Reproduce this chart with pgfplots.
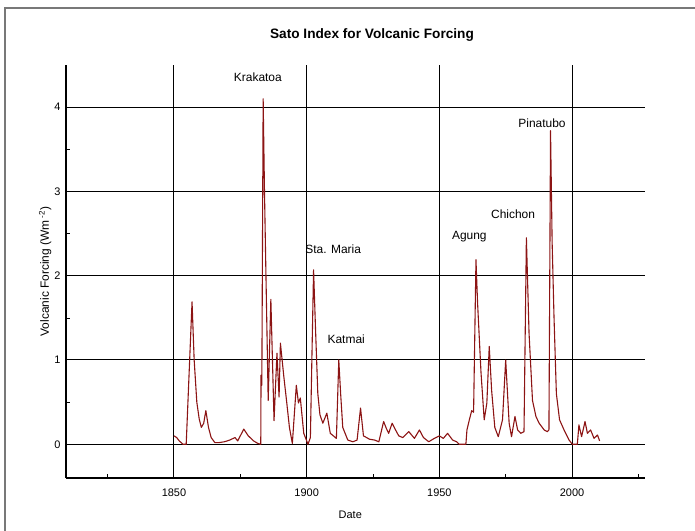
\documentclass[border=0pt]{standalone}
\usepackage{pgfplots}
\pgfplotsset{compat=1.18}
\usepackage{fontspec}
\setmainfont{Liberation Sans}
\definecolor{volc}{RGB}{140,20,20}
\definecolor{framegray}{RGB}{120,120,120}
\pgfplotstableread{
year val
1850 0.10
1851 0.08
1852 0.04
1853.4 0
1854.6 0
1856.8 1.69
1857.6 1.00
1858.6 0.50
1859.5 0.30
1860.3 0.20
1861.2 0.25
1862 0.40
1863 0.20
1864 0.08
1865.4 0.02
1867 0.02
1869 0.03
1871 0.05
1873 0.08
1874 0.04
1876.3 0.18
1878 0.10
1880 0.04
1881.6 0.01
1882.7 0
1882.8 0.82
1883.1 0.70
1883.6 4.10
1884.1 3.00
1884.6 2.10
1885.5 0.52
1886.5 1.72
1887.7 0.28
1888.8 1.08
1889.6 0.56
1890.1 1.20
1891.4 0.80
1892.4 0.52
1893.5 0.20
1894.6 0.01
1896.1 0.70
1896.9 0.49
1897.6 0.55
1898.9 0.13
1900.5 0
1901.4 0.08
1902.6 2.07
1903.3 1.40
1904.2 0.60
1905 0.35
1906.1 0.25
1907.6 0.37
1908.9 0.13
1911.2 0.07
1912.1 1.00
1912.8 0.60
1913.6 0.20
1915.5 0.05
1917.4 0.03
1919 0.05
1920.3 0.43
1921.4 0.10
1923.7 0.06
1925.6 0.05
1927.2 0.03
1929 0.27
1930 0.19
1930.9 0.13
1932.2 0.25
1933.5 0.17
1934.7 0.10
1936.2 0.08
1938.5 0.15
1940.6 0.07
1942.5 0.17
1944 0.08
1946 0.03
1948.1 0.07
1950 0.10
1951.5 0.07
1953.1 0.13
1955 0.05
1956.5 0.03
1957.5 0
1960 0
1960.4 0.17
1961.3 0.29
1962.2 0.40
1962.9 0.38
1963.8 2.19
1964.4 1.68
1965.7 0.85
1966.9 0.29
1967.9 0.49
1968.8 1.16
1969.7 0.64
1970.9 0.20
1972.2 0.09
1973.8 0.29
1975 1.00
1976.3 0.25
1977.2 0.09
1978.5 0.33
1979.5 0.17
1980.7 0.13
1981.9 0.15
1982.8 2.45
1983.8 1.32
1985.1 0.52
1986.4 0.33
1987.6 0.25
1989.5 0.17
1990.7 0.15
1991.3 0.17
1991.9 3.72
1992.5 2.40
1993.2 1.52
1994.1 0.60
1995.3 0.29
1997 0.17
1998.9 0.05
2000.1 0
2002 0
2002.6 0.23
2003.6 0.09
2004.9 0.27
2005.8 0.13
2007 0.17
2008.3 0.07
2009.6 0.11
2010.4 0.04
}\sato
\begin{document}
\begin{tikzpicture}
\useasboundingbox (0bp,0bp) rectangle (695bp,531bp);
\draw[framegray, line width=1.5bp] (5bp,-10bp) rectangle (705bp,523bp);
\node[font=\bfseries\fontsize{13.7}{15}\selectfont] at (372bp,496bp) {Sato Index for Volcanic Forcing};
\begin{axis}[
  at={(66bp,53bp)}, anchor=south west,
  scale only axis, width=579bp, height=413bp,
  xmin=1809.3, xmax=2027.5, ymin=-0.4, ymax=4.5,
  axis x line*=bottom, axis y line*=left,
  axis line style={black, line width=1.2bp, -},
  xtick={1850,1900,1950,2000},
  ytick={0,1,2,3,4},
  minor xtick={1825,1875,1925,1975,2025},
  minor ytick={0.5,1.5,2.5,3.5},
  tick align=inside,
  major tick length=0pt, minor tick length=4bp,
  tick style={black, line width=0.5bp},
  grid=major,
  major grid style={black, line width=1bp},
  xticklabel style={font=\fontsize{11}{12}\selectfont},
  yticklabel style={font=\fontsize{11}{12}\selectfont},
  /pgf/number format/assume math mode=true,
  /pgf/number format/set thousands separator={},
  xticklabel shift=7bp,
  yticklabel shift=2bp,
  xlabel={Date},
  xlabel style={font=\fontsize{11}{12}\selectfont, at={(axis description cs:0.491,0)}, anchor=center, yshift=-37bp},
  ylabel={Volcanic Forcing (Wm\textsuperscript{ -2})},
  ylabel style={font=\fontsize{12}{13}\selectfont, at={(axis description cs:-0.036,0.5)}, anchor=center, rotate=0},
  clip=false,
]
\addplot[volc, line width=1.1bp, line join=round] table[x=year, y=val] {\sato};
\node[font=\fontsize{12}{13}\selectfont] at (axis cs:1881.6,4.35) {Krakatoa};
\node[font=\fontsize{12}{13}\selectfont] at (axis cs:1910.0,2.32) {Sta. Maria};
\node[font=\fontsize{12}{13}\selectfont] at (axis cs:1914.9,1.25) {Katmai};
\node[font=\fontsize{12}{13}\selectfont] at (axis cs:1961.3,2.46) {Agung};
\node[font=\fontsize{12}{13}\selectfont] at (axis cs:1977.8,2.73) {Chichon};
\node[font=\fontsize{12}{13}\selectfont] at (axis cs:1988.7,3.81) {Pinatubo};
\end{axis}
\end{tikzpicture}
\end{document}
